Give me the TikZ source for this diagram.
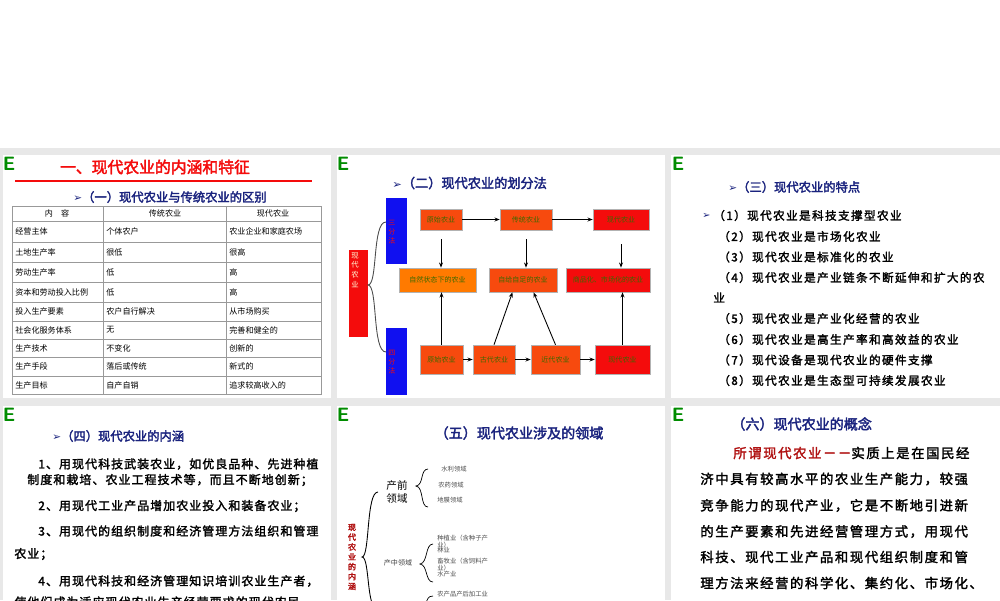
\documentclass[tikz,border=0pt]{standalone}
\usepackage{fontspec}
\setmainfont{Noto Sans CJK SC}
\newfontfamily\cj{Noto Sans CJK SC}
\newfontfamily\cjb{Noto Sans CJK SC}[FakeBold=2.5]
\newfontfamily\cjbs{Noto Sans CJK SC}[FakeBold=2,LetterSpace=12]
\newfontfamily\cjbt{Noto Sans CJK SC}[FakeBold=2,LetterSpace=9]
\newfontfamily\dv{DejaVu Sans}
\usetikzlibrary{arrows.meta}
\definecolor{navy}{HTML}{1A237E}
\definecolor{ored}{HTML}{F74A0E}
\definecolor{pred}{HTML}{F40C0C}
\definecolor{porg}{HTML}{FF7A00}
\definecolor{pblue}{HTML}{1010F0}
\definecolor{tgreen}{HTML}{3A6A00}
\definecolor{dred}{HTML}{B01010}
\tikzset{
 panel/.style={fill=white,draw=none},
 ticon/.style={text=green!55!black,font=\sffamily\bfseries\fontsize{11}{11}\selectfont,inner sep=0},
 ttl/.style={font=\cjb\fontsize{8.5}{9}\selectfont,text=navy,inner sep=0},
 cell/.style={font=\cj\fontsize{4.6}{5}\selectfont,anchor=west,inner sep=0},
 fbox/.style={draw=white!70!black,line width=0.3pt,font=\cj\fontsize{4}{4}\selectfont,text=tgreen,inner sep=0,minimum height=#1},
 arr/.style={-{Stealth[length=3pt]},line width=0.5pt},
 li/.style={font=\cjbs\fontsize{6.6}{7}\selectfont,anchor=west,inner sep=0},
 pl/.style={font=\cjbt\fontsize{6.8}{7}\selectfont,anchor=west,inner sep=0},
 cl/.style={font=\cjbs\fontsize{7.6}{8}\selectfont,anchor=west,inner sep=0},
 sm/.style={font=\cj\fontsize{3.6}{4}\selectfont,text=black!70,anchor=west,inner sep=0,align=left},
}
\begin{document}
\begin{tikzpicture}[x=0.02cm,y=-0.02cm]
\useasboundingbox (0,0) rectangle (1000,600);
\fill[white] (0,0) rectangle (1000,600);
\fill[black!9] (0,148) rectangle (1000,600);
% panels
\fill[panel] (3,155) rectangle (331,398);
\fill[panel] (337,155) rectangle (665,398);
\fill[panel] (671,155) rectangle (1000,398);
\fill[panel] (3,406) rectangle (331,600);
\fill[panel] (337,406) rectangle (665,600);
\fill[panel] (671,406) rectangle (1000,600);
\foreach \p/\x/\y in {a/9/164,b/343/164,c/678/164,d/9/415,e/343/415,f/678/415}
  \node[ticon] (icon\p) at (\x,\y) {E};
% ---------- panel 1
\node[font=\cjb\fontsize{9}{9}\selectfont,text=pred,inner sep=0] (t1) at (155,167) {一、现代农业的内涵和特征};
\draw[pred,line width=1pt] (15,181) -- (312,181);
\node[ttl,font=\cjb\fontsize{7}{7}\selectfont] (st1) at (170,197) {{\dv\fontsize{6}{6}\selectfont ➢}（一）现代农业与传统农业的区别};
\draw[black!40,line width=0.3pt] (12,206) rectangle (321,394);
\foreach \y in {221,242,262,282,302,321,339,357,376} \draw[black!40,line width=0.3pt] (12,\y) -- (321,\y);
\draw[black!40,line width=0.3pt] (103,206) -- (103,394) (226,206) -- (226,394);
\node[cell,anchor=center] (h1) at (57,213.5) {内\quad 容};
\node[cell,anchor=center] (h2) at (165,213.5) {传统农业};
\node[cell,anchor=center] (h3) at (273,213.5) {现代农业};
\foreach \n/\y/\a/\b/\c in {r1/231.5/经营主体/个体农户/农业企业和家庭农场,
 r2/252/土地生产率/很低/很高, r3/272/劳动生产率/低/高, r4/292/资本和劳动投入比例/低/高,
 r5/311.5/投入生产要素/农户自行解决/从市场购买, r6/330/社会化服务体系/无/完善和健全的,
 r7/348/生产技术/不变化/创新的, r8/366.5/生产手段/落后或传统/新式的, r9/385/生产目标/自产自销/追求较高收入的}{
 \node[cell] (\n a) at (15,\y) {\a};
 \node[cell] (\n b) at (106,\y) {\b};
 \node[cell] (\n c) at (229,\y) {\c};
}
% ---------- panel 2
\node[ttl,anchor=west,font=\cjb\fontsize{7.5}{8}\selectfont] (t2) at (392,183) {{\dv\fontsize{6.5}{7}\selectfont ➢}（二）现代农业的划分法};
\node[fill=pblue,minimum width=21*0.02cm,minimum height=66*0.02cm,inner sep=0] (three) at (396.5,231) {};
\node[font=\cj\fontsize{4}{5}\selectfont,text=pred,align=center,inner sep=0] (threet) at (392,232) {三\\分\\法};
\node[fill=pblue,minimum width=21*0.02cm,minimum height=67*0.02cm,inner sep=0] (four) at (396.5,361.5) {};
\node[font=\cj\fontsize{4}{5}\selectfont,text=pred,align=center,inner sep=0] (fourt) at (392,362) {四\\分\\法};
\node[fill=pred,minimum width=19*0.02cm,minimum height=87*0.02cm,inner sep=0] (xd) at (358.5,293.5) {};
\node[font=\cj\fontsize{4.2}{5.5}\selectfont,text=white!85!yellow,align=center,inner sep=0] (xdt) at (355,270) {现\\代\\农\\业};
\draw[black!70,line width=0.5pt] (386,222) .. controls (372,222) and (378,285) .. (368,285) .. controls (378,285) and (372,352) .. (386,352);
\tikzset{bx/.style={fbox=21*0.02cm,fill=ored}}
\node[bx,minimum width=42*0.02cm] (a1) at (441,219.5) {原始农业};
\node[bx,minimum width=52*0.02cm] (a2) at (526,219.5) {传统农业};
\node[bx,fill=pred,minimum width=56*0.02cm] (a3) at (621,219.5) {现代农业};
\node[bx,fill=porg,minimum width=77*0.02cm,minimum height=24*0.02cm] (b1) at (437.5,280) {自然状态下的农业};
\node[bx,minimum width=68*0.02cm,minimum height=24*0.02cm] (b2) at (523,280) {自给自足的农业};
\node[bx,fill=pred,minimum width=84*0.02cm,minimum height=24*0.02cm] (b3) at (608,280) {商品化、市场化的农业};
\node[bx,minimum width=43*0.02cm,minimum height=29*0.02cm] (c1) at (441.5,359.5) {原始农业};
\node[bx,minimum width=42*0.02cm,minimum height=29*0.02cm] (c2) at (494,359.5) {古代农业};
\node[bx,minimum width=49*0.02cm,minimum height=29*0.02cm] (c3) at (555.5,359.5) {近代农业};
\node[bx,fill=pred,minimum width=55*0.02cm,minimum height=29*0.02cm] (c4) at (622.5,359.5) {现代农业};
\draw[arr] (a1) -- (a2); \draw[arr] (a2) -- (a3);
\draw[arr] ([yshift=-5]a1.south) -- (a1.south |- b1.north);
\draw[arr] ([yshift=-5]a2.south) -- (a2.south |- b2.north);
\draw[arr] ([yshift=-8]a3.south) -- (a3.south |- b3.north);
\draw[arr] (c1.north) -- (c1.north |- b1.south);
\draw[arr] (c2.north) -- ([xshift=-6]b2.south);
\draw[arr] (c3.north) -- ([xshift=6]b2.south);
\draw[arr] (c4.north) -- (c4.north |- b3.south);
\draw[arr] (c1) -- (c2); \draw[arr] (c2) -- (c3); \draw[arr] (c3) -- (c4);
% ---------- panel 3
\node[ttl,anchor=west,font=\cjb\fontsize{7}{7}\selectfont] (t3) at (728,187) {{\dv\fontsize{6}{6}\selectfont ➢}（三）现代农业的特点};
\node[li,text=navy] (bul) at (702,215.5) {\dv\fontsize{5.5}{6}\selectfont ➢};
\node[li] (f1) at (713,215.5) {（1）现代农业是科技支撑型农业};
\node[li] (f2) at (718,236.5) {（2）现代农业是市场化农业};
\node[li] (f3) at (718,257) {（3）现代农业是标准化的农业};
\node[li] (f4) at (718,277.5) {（4）现代农业是产业链条不断延伸和扩大的农};
\node[li] (f4b) at (713,297.5) {业};
\node[li] (f5) at (718,318.5) {（5）现代农业是产业化经营的农业};
\node[li] (f6) at (718,339.5) {（6）现代农业是高生产率和高效益的农业};
\node[li] (f7) at (718,360) {（7）现代设备是现代农业的硬件支撑};
\node[li] (f8) at (718,380.5) {（8）现代农业是生态型可持续发展农业};
% ---------- panel 4
\node[ttl,anchor=west,font=\cjb\fontsize{7}{7}\selectfont] (t4) at (52,436) {{\dv\fontsize{6}{6}\selectfont ➢}（四）现代农业的内涵};
\node[pl] (p1) at (38,464) {1、用现代科技武装农业，如优良品种、先进种植};
\node[pl] (p1b) at (27,480) {制度和栽培、农业工程技术等，而且不断地创新；};
\node[pl] (p2) at (38,506) {2、用现代工业产品增加农业投入和装备农业；};
\node[pl] (p3) at (38,531) {3、用现代的组织制度和经济管理方法组织和管理};
\node[pl] (p3b) at (14,554) {农业；};
\node[pl] (p4) at (38,581) {4、用现代科技和经济管理知识培训农业生产者，};
\node[pl] (p4b) at (14,602) {使他们成为适应现代农业生产经营要求的现代农民};
% ---------- panel 5
\node[ttl,font=\cjb\fontsize{8}{8}\selectfont] (t5) at (519,433) {（五）现代农业涉及的领域};
\node[font=\cjb\fontsize{4.6}{5.6}\selectfont,text=dred,align=center,inner sep=0] (nh) at (352,557) {现\\代\\农\\业\\的\\内\\涵};
\draw[black,line width=0.5pt] (378,492) .. controls (366,492) and (370,557) .. (362,557) .. controls (370,557) and (366,610) .. (378,610);
\node[font=\cj\fontsize{6}{7}\selectfont,align=center,inner sep=0] (cq) at (397,492) {产前\\领域};
\draw[black,line width=0.4pt] (428,469) .. controls (420,469) and (424,485) .. (416,486) .. controls (424,487) and (420,507) .. (428,507);
\node[sm] (s1) at (441,469) {水利领域};
\node[sm] (s2) at (438,485) {农药领域};
\node[sm] (s3) at (437,500) {地膜领域};
\node[font=\cj\fontsize{4}{5}\selectfont,text=black!75,inner sep=0] (cz) at (398,563) {产中领域};
\draw[black,line width=0.4pt] (433,544) .. controls (425,544) and (428,563) .. (420,564) .. controls (428,565) and (425,582) .. (433,582);
\node[sm] (s4) at (437,542) {种植业（含种子产\\业）};
\node[sm] (s4b) at (437,550) {林业};
\node[sm] (s5) at (437,565) {畜牧业（含饲料产\\业）};
\node[sm] (s5b) at (437,574) {水产业};
\draw[black,line width=0.4pt] (433,596) .. controls (427,596) and (428,600) .. (425,604);
\node[sm] (s6) at (437,594) {农产品产后加工业};
% ---------- panel 6
\node[ttl,anchor=west,font=\cjb\fontsize{8}{8}\selectfont] (t6) at (731,424) {（六）现代农业的概念};
\node[cl] (q1) at (733,453) {\textcolor{dred}{所谓现代农业－－}实质上是在国民经};
\node[cl] (q2) at (700,479) {济中具有较高水平的农业生产能力，较强};
\node[cl] (q3) at (700,505.5) {竞争能力的现代产业，它是不断地引进新};
\node[cl] (q4) at (700,531.5) {的生产要素和先进经营管理方式，用现代};
\node[cl] (q5) at (700,557) {科技、现代工业产品和现代组织制度和管};
\node[cl] (q6) at (700,583) {理方法来经营的科学化、集约化、市场化、};
\end{tikzpicture}
\end{document}
